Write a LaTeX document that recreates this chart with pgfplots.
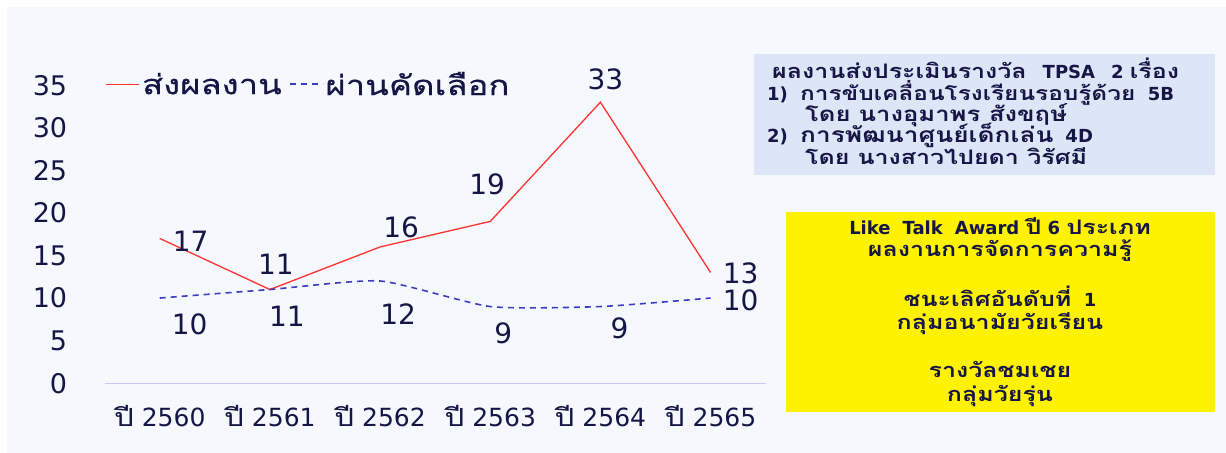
\documentclass[border=0pt]{standalone}
\usepackage{pgfplots}
\pgfplotsset{compat=1.18}
\usepackage{fontspec}
\setmainfont{DejaVu Sans}
\newfontfamily\thai{Loma}[Script=Thai, FakeStretch=1.25]
\newfontfamily\thaiL{Loma}[Script=Thai, FakeStretch=1.26, FakeBold=0.5]
\newcommand\T[1]{{\thai\fontsize{20bp}{22bp}\selectfont #1}}
\definecolor{txt}{RGB}{22,22,70}
\definecolor{panel}{RGB}{245,248,253}
\definecolor{boxone}{RGB}{220,230,246}
\definecolor{redline}{RGB}{255,50,50}
\definecolor{blueline}{RGB}{60,60,195}
\definecolor{axisline}{RGB}{200,200,240}
\begin{document}
\begin{tikzpicture}[x=1bp,y=1bp]
\fill[white] (0,0) rectangle (1226,453);
\fill[panel] (7,0) rectangle (1226,446);
\useasboundingbox (0,0) rectangle (1226,453);
\fill[boxone] (754,278) rectangle (1215,399);
\fill[yellow] (786,41) rectangle (1215,241);
\begin{axis}[
  at={(95,82)}, anchor=south west,
  scale only axis, width=661bp, height=298bp,
  xmin=-0.5, xmax=5.5, ymin=0, ymax=35,
  axis x line*=bottom, axis y line*=left,
  x axis line style={draw=axisline, line width=1.2bp, -},
  y axis line style={draw=none},
  major tick length=0pt,
  xtick={0,...,5},
  xticklabels={{\thai ปี} 2560, {\thai ปี} 2561, {\thai ปี} 2562, {\thai ปี} 2563, {\thai ปี} 2564, {\thai ปี} 2565},
  ytick={0,5,...,35},
  /pgf/number format/assume math mode=true,
  xticklabel style={font=\fontsize{25bp}{30bp}\selectfont, text=txt, yshift=-19bp},
  yticklabel style={font=\fontsize{27bp}{32bp}\selectfont, text=txt, anchor=east, xshift=-34bp},
  clip=false,
  legend style={draw=none, fill=none, at={(0.0015,1.003)}, anchor=west,
    legend columns=-1, font=\thaiL\fontsize{27.5bp}{32bp}\selectfont, text=txt,
    inner xsep=0pt, inner ysep=0pt,
    /tikz/every even column/.append style={column sep=5bp}},
  legend image code/.code={\draw[#1] (0bp,0bp) -- (33bp,0bp);},
  every node near coord/.append style={font=\fontsize{28bp}{32bp}\selectfont, text=txt},
]
\addplot[color=redline, line width=1.3bp, mark=none,
  nodes near coords, point meta=explicit,
  visualization depends on={value \thisrow{dx} \as \dx},
  visualization depends on={value \thisrow{dy} \as \dy},
  nodes near coords style={anchor=center, xshift=\dx bp, yshift=\dy bp}]
  table[x=x, y=y, meta=y] {
x y dx dy
0 17 31 -3
1 11 6 25
2 16 21 20
3 19 -3 37
4 33 5 23
5 13 30 -1
};
\addlegendentry{ส่งผลงาน}
\addplot[color=blueline, line width=1.6bp, mark=none, dash pattern=on 6bp off 5bp,
  smooth, tension=0.35,
  nodes near coords, point meta=explicit,
  visualization depends on={value \thisrow{dx} \as \dx},
  visualization depends on={value \thisrow{dy} \as \dy},
  nodes near coords style={anchor=center, xshift=\dx bp, yshift=\dy bp}]
  table[x=x, y=y, meta=y] {
x y dx dy
0 10 30 -26
1 11 17 -27
2 12 18 -33
3 9 13 -27
4 9 19 -22
5 10 30 -2
};
\addlegendentry{ผ่านคัดเลือก}
\end{axis}
\begin{scope}[every node/.style={text=txt, inner sep=0pt, font=\bfseries\fontsize{18bp}{21bp}\selectfont}]
\node[anchor=base west] at (772,374) {\T{ผลงานส่งประเมินรางวัล}\hspace{16bp}TPSA\hspace{16bp}2 \T{เรื่อง}};
\node[anchor=base west] at (767,352) {1)};
\node[anchor=base west] at (800,352) {{\thai\fontsize{19.5bp}{22bp}\selectfont การขับเคลื่อนโรงเรียนรอบรู้ด้วย}\ \ 5B};
\node[anchor=base west] at (805,331) {{\thai\fontsize{20.5bp}{22bp}\selectfont โดย\hspace{8bp}นางอุมาพร สังขฤษ์}};
\node[anchor=base west] at (767,310) {2)};
\node[anchor=base west] at (800,310) {{\thai\fontsize{21bp}{22bp}\selectfont การพัฒนาศูนย์เด็กเล่น}\hspace{12bp}4D};
\node[anchor=base west] at (805,288) {\T{โดย\hspace{8bp}นางสาวไปยดา วิรัศมี}};
\node[anchor=base] at (1000,218) {Like\hspace{12bp}Talk\hspace{12bp}Award \T{ปี} 6 \T{ประเภท}};
\node[anchor=base] at (1000,196) {\T{ผลงานการจัดการความรู้}};
\node[anchor=base] at (1000,146) {\T{ชนะเลิศอันดับที่}\ \ 1};
\node[anchor=base] at (1000,123) {\T{กลุ่มอนามัยวัยเรียน}};
\node[anchor=base] at (1000,75) {\T{รางวัลชมเชย}};
\node[anchor=base] at (1000,51) {\T{กลุ่มวัยรุ่น}};
\end{scope}
\end{tikzpicture}
\end{document}
